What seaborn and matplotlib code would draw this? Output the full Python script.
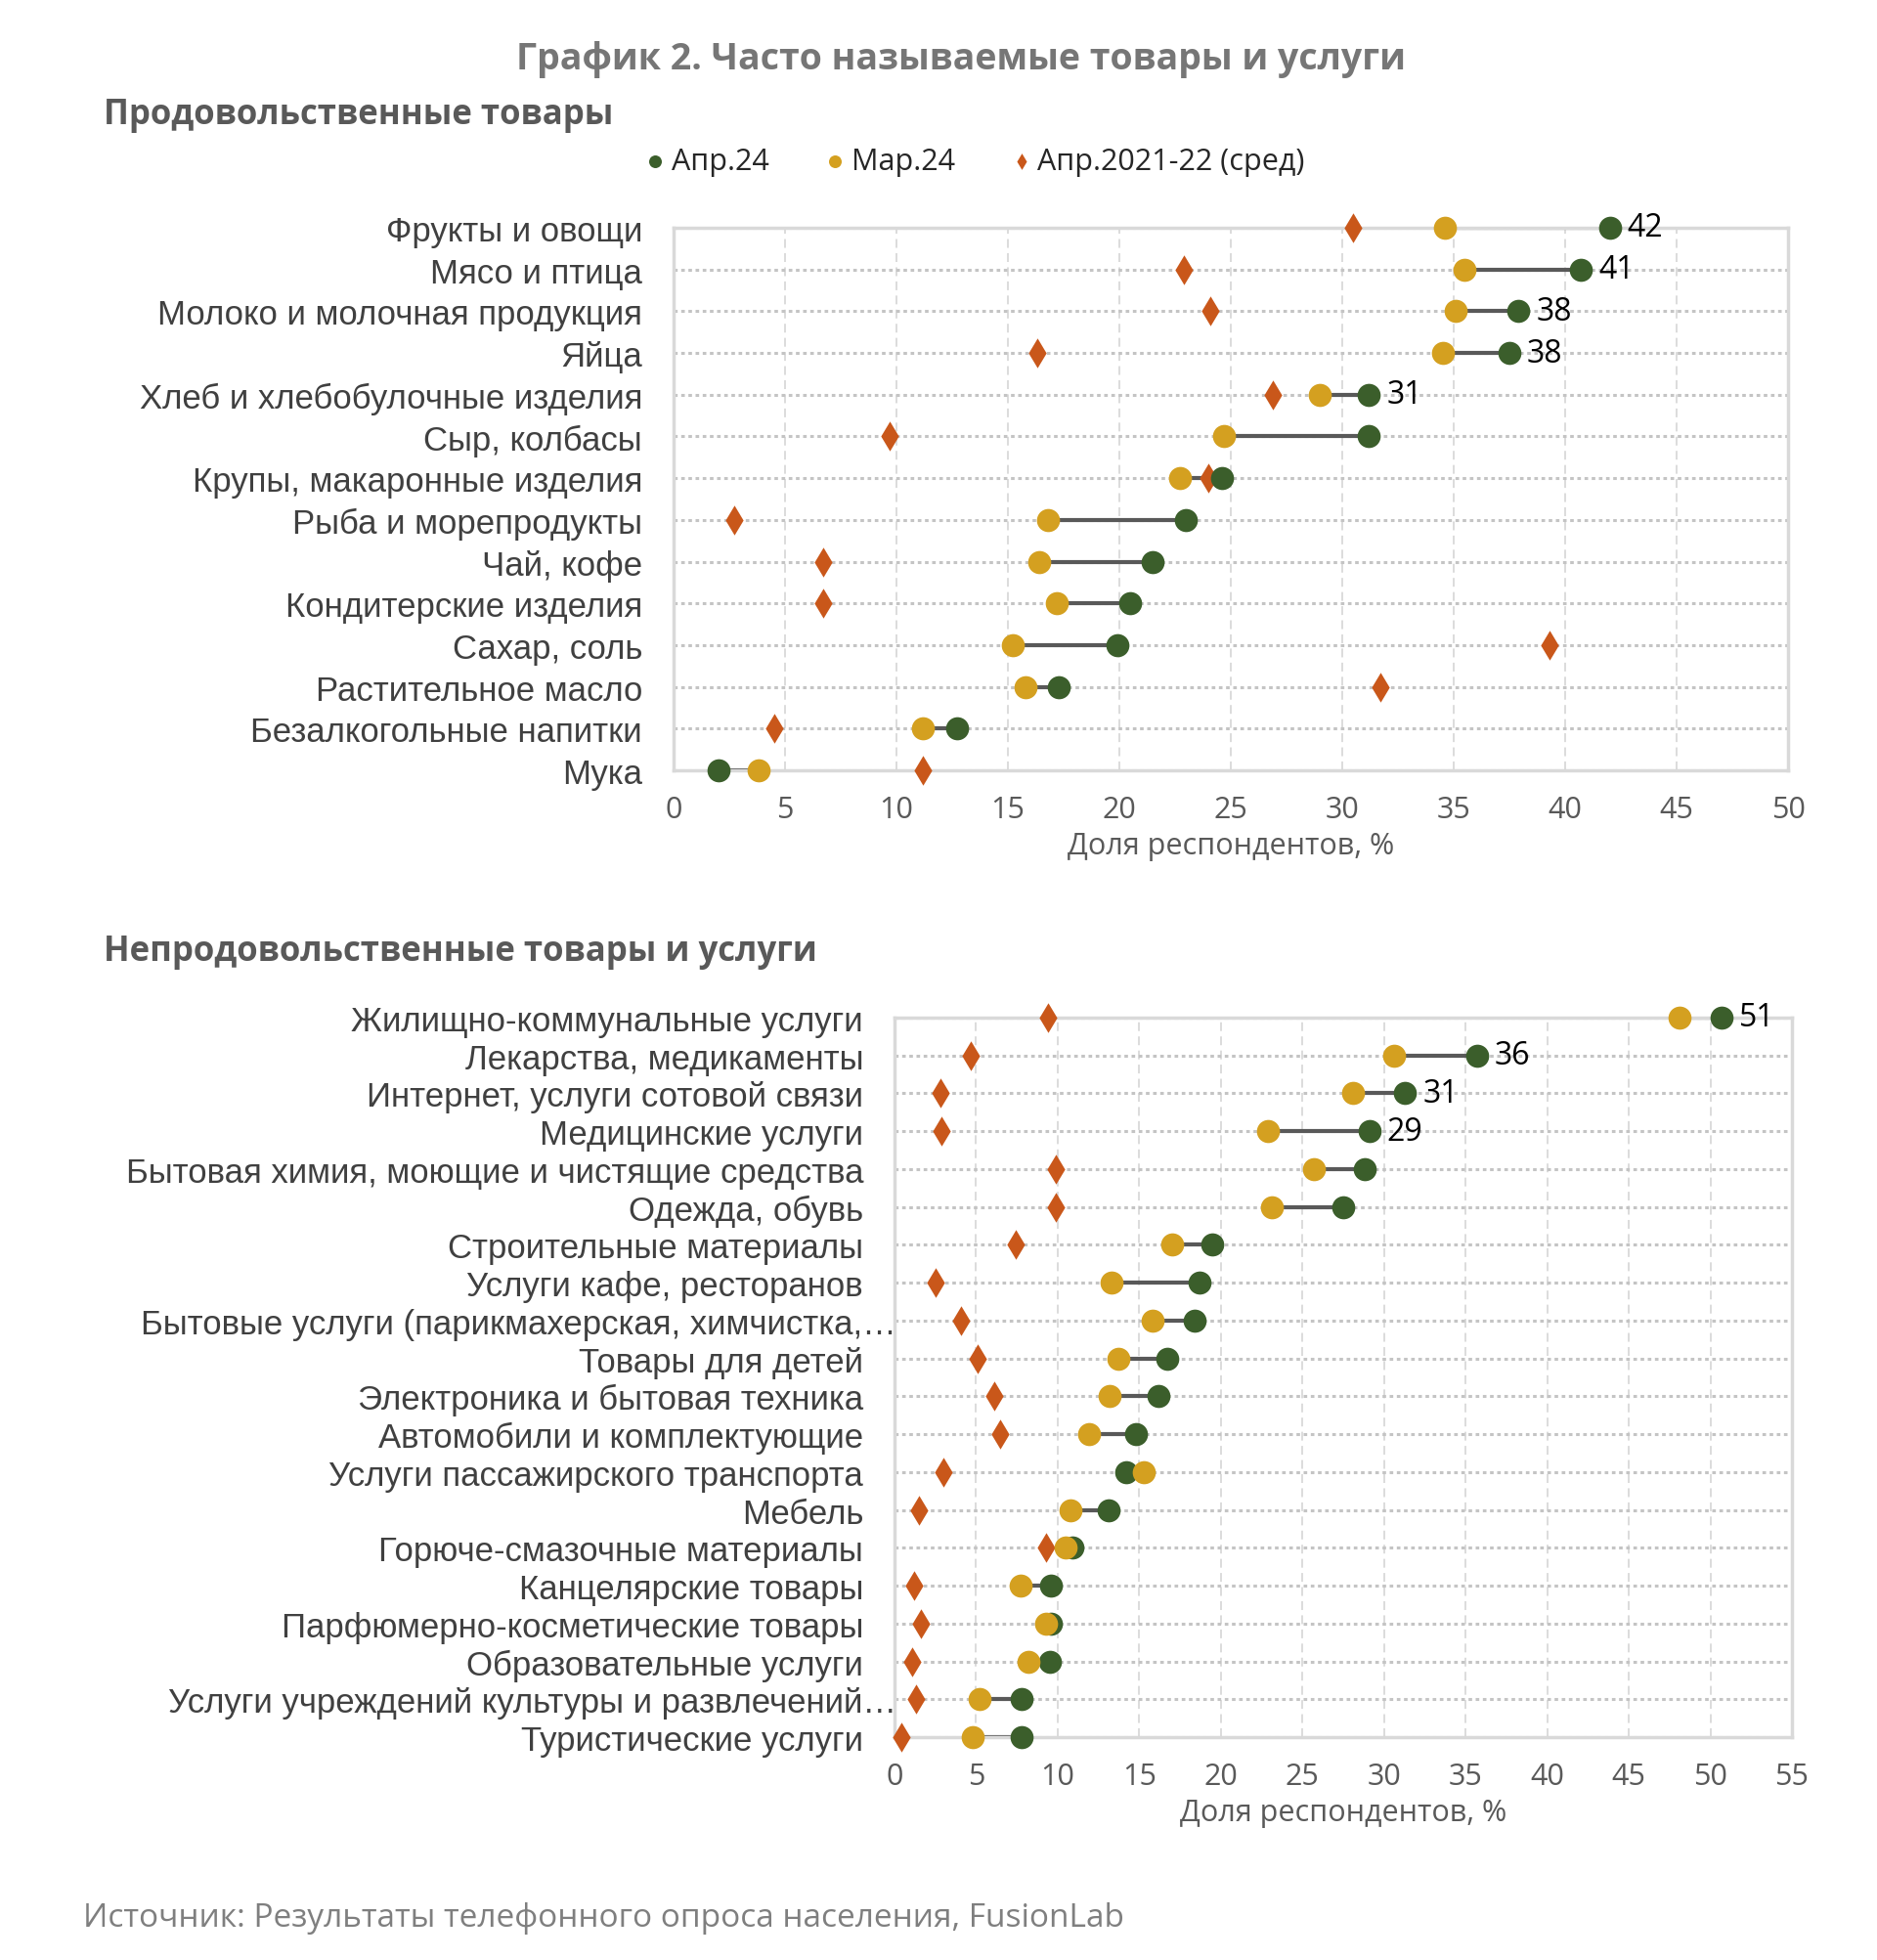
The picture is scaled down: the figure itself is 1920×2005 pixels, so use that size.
import numpy as np
import pandas as pd
import matplotlib
matplotlib.use("Agg")
import matplotlib.pyplot as plt
import matplotlib.transforms as mtransforms
import seaborn as sns

# ---------------- data ----------------
food_categories = [
    "Фрукты и овощи", "Мясо и птица", "Молоко и молочная продукция", "Яйца",
    "Хлеб и хлебобулочные изделия", "Сыр, колбасы", "Крупы, макаронные изделия",
    "Рыба и морепродукты", "Чай, кофе", "Кондитерские изделия", "Сахар, соль",
    "Растительное масло", "Безалкогольные напитки", "Мука",
]
food_apr24 = [42.0, 40.7, 37.9, 37.5, 31.2, 31.2, 24.6, 23.0, 21.5, 20.5, 19.9, 17.3, 12.7, 2.0]
food_mar24 = [34.6, 35.5, 35.1, 34.5, 29.0, 24.7, 22.7, 16.8, 16.4, 17.2, 15.2, 15.8, 11.2, 3.8]
food_avg = [30.5, 22.9, 24.1, 16.3, 26.9, 9.7, 24.0, 2.7, 6.7, 6.7, 39.3, 31.7, 4.5, 11.2]
food_value_labels = ["42", "41", "38", "38", "31"]

nonfood_categories = [
    "Жилищно-коммунальные услуги", "Лекарства, медикаменты",
    "Интернет, услуги сотовой связи", "Медицинские услуги",
    "Бытовая химия, моющие и чистящие средства", "Одежда, обувь",
    "Строительные материалы", "Услуги кафе, ресторанов",
    "Бытовые услуги (парикмахерская, химчистка,…", "Товары для детей",
    "Электроника и бытовая техника", "Автомобили и комплектующие",
    "Услуги пассажирского транспорта", "Мебель", "Горюче-смазочные материалы",
    "Канцелярские товары", "Парфюмерно-косметические товары",
    "Образовательные услуги", "Услуги учреждений культуры и развлечений…",
    "Туристические услуги",
]
nonfood_apr24 = [50.7, 35.7, 31.3, 29.1, 28.8, 27.5, 19.5, 18.7, 18.4, 16.7, 16.2, 14.8,
                 14.2, 13.1, 10.9, 9.6, 9.6, 9.5, 7.8, 7.8]
nonfood_mar24 = [48.1, 30.6, 28.1, 22.9, 25.7, 23.1, 17.0, 13.3, 15.8, 13.7, 13.2, 11.9,
                 15.3, 10.8, 10.5, 7.7, 9.3, 8.2, 5.2, 4.8]
nonfood_avg = [9.4, 4.7, 2.8, 2.9, 9.9, 9.9, 7.4, 2.5, 4.1, 5.1, 6.1, 6.5,
               3.0, 1.5, 9.3, 1.2, 1.6, 1.1, 1.3, 0.4]
nonfood_value_labels = ["51", "36", "31", "29"]

series_names = ["Апр.24", "Мар.24", "Апр.2021-22 (сред)"]
food_xticks = list(range(0, 51, 5))
nonfood_xticks = list(range(0, 56, 5))

# ---------------- style ----------------
GREEN = "#3B5E2B"
GOLD = "#D4A020"
ORANGE = "#C9571A"
LINE = "#595959"
GRID_V = "#D9D9D9"
GRID_H = "#C4C4C4"
TXT = "#404040"
SANS2 = ["Open Sans", "DejaVu Sans"]

sns.set_theme(style="white")
plt.rcParams["font.family"] = ["Liberation Sans", "DejaVu Sans"]

fig = plt.figure(figsize=(19.2, 20.06), dpi=100)

ax1 = fig.add_axes([689 / 1920, 1 - 789 / 2006, 1140 / 1920, (789 - 234) / 2006])
ax2 = fig.add_axes([915 / 1920, 1 - 1778 / 2006, 918 / 1920, (1778 - 1042) / 2006])


def draw(ax, cats, apr, mar, avg, vlabels, xticks):
    df = pd.DataFrame({"cat": cats, "apr": apr, "mar": mar, "avg": avg})
    df["pos"] = np.arange(len(df))
    n = len(df)

    for xv in xticks:
        ax.axvline(xv, color=GRID_V, lw=1.3, ls=(0, (5, 3)), zorder=0)
    for p in df["pos"]:
        ax.axhline(p, color=GRID_H, lw=2.2, ls=(0, (1.2, 1.2)), zorder=0.5)

    ax.hlines(df["pos"], df["mar"], df["apr"], color=LINE, lw=3, zorder=2)
    sns.scatterplot(data=df, x="avg", y="pos", marker="d", s=240, color=ORANGE,
                    linewidth=0, ax=ax, zorder=3, clip_on=False, label=series_names[2])
    sns.scatterplot(data=df, x="apr", y="pos", marker="o", s=290, color=GREEN,
                    linewidth=0, ax=ax, zorder=4, clip_on=False, label=series_names[0])
    sns.scatterplot(data=df, x="mar", y="pos", marker="o", s=290, color=GOLD,
                    linewidth=0, ax=ax, zorder=5, clip_on=False, label=series_names[1])

    for i, lab in enumerate(vlabels):
        ax.annotate(lab, xy=(df["apr"][i], df["pos"][i]), xytext=(13, 0),
                    textcoords="offset points", va="center", ha="left",
                    fontsize=23, color="#000000", family=SANS2, zorder=6)

    ax.set_xlim(xticks[0], xticks[-1])
    ax.set_ylim(n - 1, 0)
    ax.set_xticks(xticks)
    ax.set_xticklabels([str(t) for t in xticks], fontsize=22, color="#595959", family=SANS2)
    ax.set_yticks(df["pos"])
    ax.set_yticklabels(df["cat"], fontsize=25, color=TXT)
    ax.tick_params(axis="y", length=0, pad=23)
    ax.tick_params(axis="x", length=0, pad=18)
    ax.set_xlabel("Доля респондентов, %", fontsize=22, color="#595959",
                  family=SANS2, labelpad=5)
    ax.set_ylabel("")
    for s in ax.spines.values():
        s.set_color(GRID_V)
        s.set_linewidth(2.5)
        s.set_visible(True)
    leg = ax.get_legend()
    handles, labels = ax.get_legend_handles_labels()
    if leg is not None:
        leg.remove()
    return handles, labels


h, l = draw(ax1, food_categories, food_apr24, food_mar24, food_avg, food_value_labels, food_xticks)
draw(ax2, nonfood_categories, nonfood_apr24, nonfood_mar24, nonfood_avg, nonfood_value_labels, nonfood_xticks)

for lab in ax2.get_yticklabels():
    if lab.get_text().endswith("…"):
        lab.set_transform(lab.get_transform() +
                          mtransforms.ScaledTranslation(34 / 100, 0, fig.dpi_scale_trans))

order = [1, 2, 0]
fig.legend([h[i] for i in order], [l[i] for i in order], loc="center",
           bbox_to_anchor=(998 / 1920, 1 - 166 / 2006), ncol=3, frameon=False,
           markerscale=0.55, handlelength=0.6, handletextpad=0.25, columnspacing=1.9,
           prop={"family": SANS2, "size": 22})

fig.text(983 / 1920, 1 - 61 / 2006, "График 2. Часто называемые товары и услуги",
         ha="center", va="center", fontsize=27, fontweight="bold", color="#767676",
         family=SANS2)
fig.text(106 / 1920, 1 - 118 / 2006, "Продовольственные товары", ha="left", va="center",
         fontsize=25, fontweight="bold", color="#595959", family=SANS2)
fig.text(106 / 1920, 1 - 974 / 2006, "Непродовольственные товары и услуги", ha="left",
         va="center", fontsize=25, fontweight="bold", color="#595959", family=SANS2)
fig.text(85 / 1920, 1 - 1963 / 2006, "Источник: Результаты телефонного опроса населения, FusionLab",
         ha="left", va="center", fontsize=24, color="#7F7F7F", family=SANS2)

fig.savefig("out.png", dpi=100, facecolor="white")
